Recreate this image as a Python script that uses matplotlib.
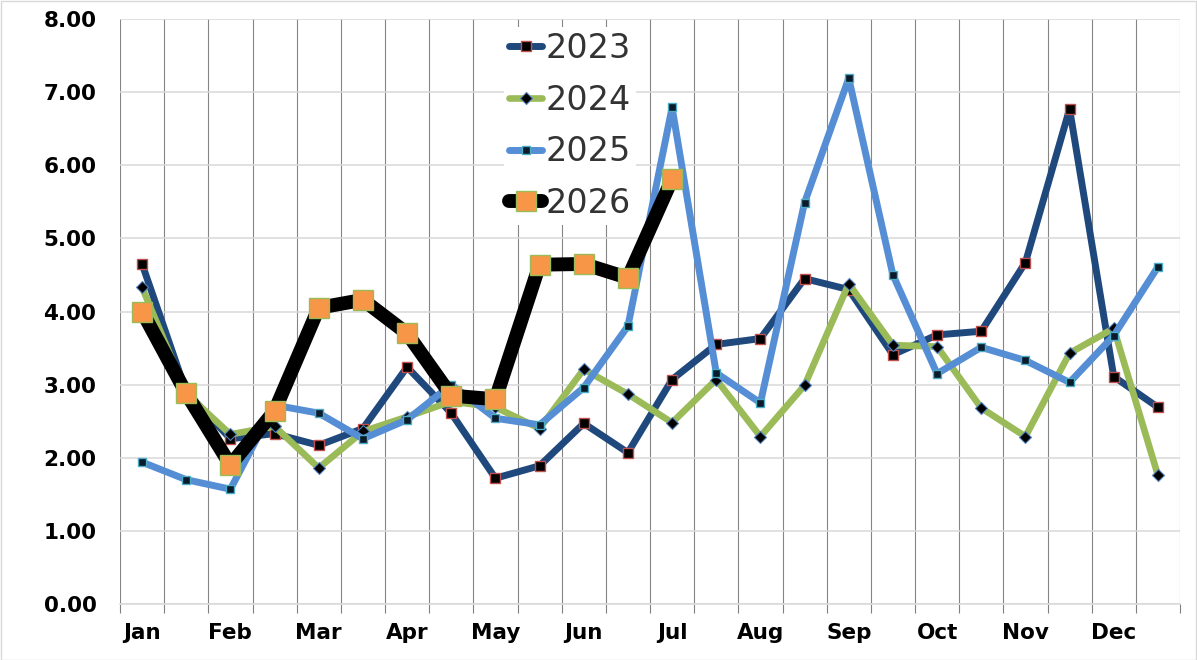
import matplotlib
matplotlib.use("Agg")
import matplotlib.pyplot as plt
from matplotlib.patches import Rectangle
import numpy as np

months = ["Jan", "Feb", "Mar", "Apr", "May", "Jun", "Jul", "Aug", "Sep", "Oct", "Nov", "Dec"]

y2023 = [4.65, 2.90, 2.26, 2.33, 2.17, 2.40, 3.24, 2.61, 1.72, 1.89, 2.47, 2.07,
         3.07, 3.55, 3.63, 4.45, 4.30, 3.41, 3.68, 3.73, 4.67, 6.77, 3.11, 2.69]
y2024 = [4.33, 2.88, 2.32, 2.43, 1.86, 2.36, 2.56, 2.77, 2.69, 2.40, 3.21, 2.87,
         2.48, 3.07, 2.29, 2.99, 4.38, 3.54, 3.52, 2.68, 2.29, 3.43, 3.77, 1.76]
y2025 = [1.94, 1.70, 1.57, 2.72, 2.61, 2.26, 2.52, 3.00, 2.54, 2.45, 2.96, 3.80,
         6.79, 3.16, 2.75, 5.49, 7.19, 4.50, 3.15, 3.51, 3.33, 3.03, 3.67, 4.61]
y2026 = [4.00, 2.88, 1.90, 2.64, 4.05, 4.16, 3.70, 2.85, 2.80, 4.64, 4.65, 4.46, 5.81]

W, H = 1197, 660
fig = plt.figure(figsize=(W / 100, H / 100), dpi=100)
ax = fig.add_axes([120 / W, 1 - 604 / H, (1180 - 120) / W, (604 - 19) / H])

n = len(y2023)
x = np.arange(n)

common = dict(solid_capstyle="round", solid_joinstyle="round")
ax.plot(x, y2023, color="#1F497D", lw=5, marker="s", ms=7, mfc="black",
        mec="#C0504D", mew=1, label="2023", zorder=3, **common)
ax.plot(x, y2024, color="#9BBB59", lw=4.8, marker="D", ms=6, mfc="black",
        mec="#4F81BD", mew=0.8, label="2024", zorder=4, **common)
ax.plot(x, y2025, color="#558ED5", lw=5, marker="s", ms=5.2, mfc="#0B1B2B",
        mec="#4BACC6", mew=1, label="2025", zorder=5, **common)
ax.plot(np.arange(len(y2026)), y2026, color="black", lw=10, marker="s", ms=14,
        mfc="#F79646", mec="#9BBB59", mew=1, label="2026", zorder=6, **common)

ax.set_xlim(-0.5, n - 0.5)
ax.set_ylim(0, 8)

ax.set_yticks(np.arange(0, 9, 1))
ax.set_yticklabels([f"{v:.2f}" for v in np.arange(0, 9, 1)])
ax.set_xticks(np.arange(0, n, 2))
ax.set_xticklabels(months)
ax.set_xticks(np.arange(-0.5, n, 1), minor=True)

for lab in ax.get_xticklabels() + ax.get_yticklabels():
    lab.set_fontweight("bold")
    lab.set_fontsize(15.5)
    lab.set_fontfamily("DejaVu Sans")

ax.tick_params(axis="y", length=0, pad=17)
ax.tick_params(axis="x", which="major", length=0, pad=14)
ax.tick_params(axis="x", which="minor", length=6.5, width=0.8, color="#808080",
               direction="out")

ax.grid(axis="y", which="major", color="#D9D9D9", lw=1.1, zorder=0)
ax.grid(axis="x", which="minor", color="#858585", lw=0.8, zorder=0)
ax.grid(axis="x", which="major", visible=False)
ax.set_axisbelow(True)

for s in ["top", "right", "left"]:
    ax.spines[s].set_visible(False)
ax.spines["bottom"].set_color("#D9D9D9")
ax.spines["bottom"].set_linewidth(1.1)

leg = ax.legend(loc="center", bbox_to_anchor=((570 - 120) / 1060, 1 - (126 - 19) / 585),
                fontsize=24, frameon=True, framealpha=1, facecolor="white",
                edgecolor="none", handlelength=1.0, handletextpad=0.1,
                labelspacing=0.56, borderpad=0.15, borderaxespad=0)
leg.set_zorder(10)
for t in leg.get_texts():
    t.set_color("#333333")

fig.patches.append(Rectangle((0.5 / W, 0.5 / H), 1 - 1.5 / W, 1 - 1.5 / H,
                             transform=fig.transFigure, fill=False,
                             edgecolor="#D9D9D9", lw=1))

fig.savefig("out.png", dpi=100)
